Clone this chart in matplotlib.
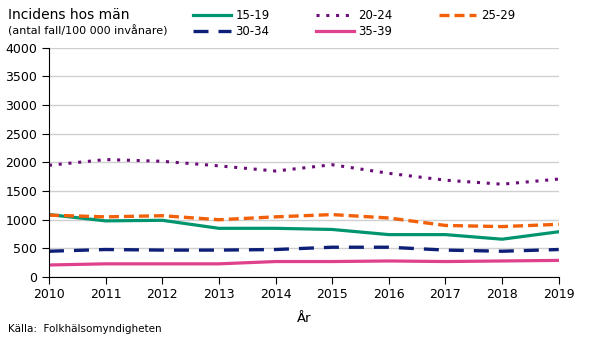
import matplotlib
matplotlib.use("Agg")
import matplotlib.pyplot as plt

years = [2010, 2011, 2012, 2013, 2014, 2015, 2016, 2017, 2018, 2019]
s15_19 = [1090, 980, 990, 850, 850, 830, 740, 740, 660, 790]
s20_24 = [1950, 2050, 2020, 1940, 1850, 1960, 1810, 1690, 1620, 1710]
s25_29 = [1080, 1050, 1070, 1000, 1050, 1090, 1030, 900, 880, 920]
s30_34 = [450, 480, 470, 470, 480, 520, 520, 470, 450, 480]
s35_39 = [210, 230, 230, 230, 270, 270, 280, 270, 280, 290]
yticks = [0, 500, 1000, 1500, 2000, 2500, 3000, 3500, 4000]

plt.rcParams['font.family'] = ['DejaVu Sans']
fig = plt.figure(figsize=(5.9, 3.37), dpi=100)
ax = fig.add_axes([0.083, 0.178, 0.864, 0.68])

h1, = ax.plot(years, s15_19, color='#00956e', lw=2.3, label='15-19')
h2, = ax.plot(years, s20_24, color='#6a0d78', lw=2.2, ls=(0, (1, 2.2)), label='20-24')
h3, = ax.plot(years, s25_29, color='#f2600a', lw=2.4, ls=(0, (3, 1.5)), label='25-29')
h4, = ax.plot(years, s30_34, color='#0e1f78', lw=2.4, ls=(0, (4.5, 3)), label='30-34')
h5, = ax.plot(years, s35_39, color='#e0418c', lw=2.3, label='35-39')

ax.set_xlim(2010, 2019)
ax.set_ylim(0, 4000)
ax.set_yticks(yticks)
ax.set_xticks(years)
ax.grid(axis='y', color='#d0d0d0', lw=1)
ax.set_axisbelow(True)
for s in ['top', 'right']:
    ax.spines[s].set_visible(False)
ax.spines['left'].set_color('black')
ax.spines['bottom'].set_color('black')
ax.tick_params(axis='both', labelsize=9, direction='out', length=5, width=0.8, colors='black')
ax.tick_params(axis='x', pad=3)

fig.legend(handles=[h1, h4, h2, h5, h3], labels=['15-19', '30-34', '20-24', '35-39', '25-29'],
           ncol=3, loc='upper left', bbox_to_anchor=(0.309, 1.005), frameon=False,
           fontsize=8.5, handlelength=3.2, columnspacing=3.9, labelspacing=0.25,
           handletextpad=0.4)

fig.text(0.014, 0.955, 'Incidens hos män', fontsize=10, va='center', ha='left')
fig.text(0.014, 0.908, '(antal fall/100 000 invånare)', fontsize=8, va='center', ha='left')
fig.text(0.515, 0.055, 'År', fontsize=9.5, va='center', ha='center')
fig.text(0.014, 0.025, 'Källa:  Folkhälsomyndigheten', fontsize=7.5, va='center', ha='left')

fig.savefig('out.png', dpi=100)
